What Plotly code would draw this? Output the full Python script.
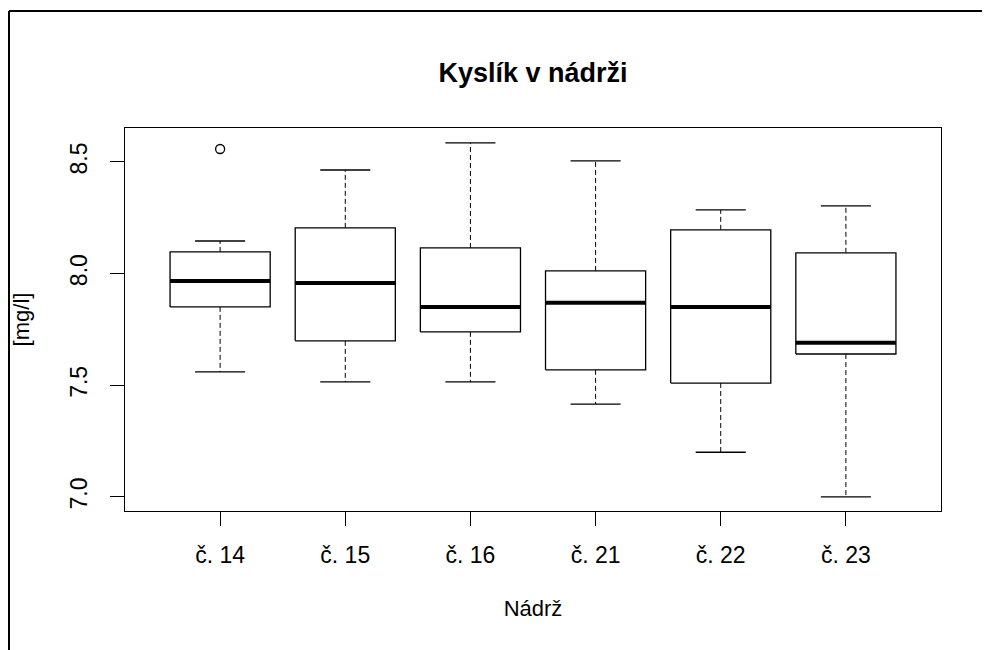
import plotly.graph_objects as go

categories = ["č. 14", "č. 15", "č. 16", "č. 21", "č. 22", "č. 23"]
lower_whisker = [7.56, 7.515, 7.515, 7.416, 7.20, 7.00]
q1 = [7.851, 7.699, 7.739, 7.569, 7.51, 7.64]
median = [7.967, 7.958, 7.851, 7.869, 7.851, 7.69]
q3 = [8.097, 8.205, 8.115, 8.012, 8.196, 8.093]
upper_whisker = [8.146, 8.464, 8.585, 8.505, 8.285, 8.303]
outlier_group = [1]
outlier_value = [8.558]
y_ticks = [7.0, 7.5, 8.0, 8.5]
y_tick_labels = ["7.0", "7.5", "8.0", "8.5"]

BOX_HALF = 0.4
CAP_HALF = 0.2
FONT = "Liberation Sans, Arial, sans-serif"

pos = list(range(1, len(categories) + 1))

box_x, box_y = [], []
med_x, med_y = [], []
wh_x, wh_y = [], []
cap_x, cap_y = [], []
for i, p in enumerate(pos):
    box_x += [p - BOX_HALF, p + BOX_HALF, p + BOX_HALF, p - BOX_HALF, p - BOX_HALF, None]
    box_y += [q1[i], q1[i], q3[i], q3[i], q1[i], None]
    med_x += [p - BOX_HALF, p + BOX_HALF, None]
    med_y += [median[i], median[i], None]
    wh_x += [p, p, None, p, p, None]
    wh_y += [q3[i], upper_whisker[i], None, q1[i], lower_whisker[i], None]
    cap_x += [p - CAP_HALF, p + CAP_HALF, None, p - CAP_HALF, p + CAP_HALF, None]
    cap_y += [upper_whisker[i], upper_whisker[i], None, lower_whisker[i], lower_whisker[i], None]

fig = go.Figure()
fig.add_trace(go.Scatter(x=wh_x, y=wh_y, mode="lines",
                         line=dict(color="black", width=1, dash="5px,3px"),
                         hoverinfo="skip", showlegend=False))
fig.add_trace(go.Scatter(x=cap_x, y=cap_y, mode="lines",
                         line=dict(color="black", width=1.3),
                         hoverinfo="skip", showlegend=False))
fig.add_trace(go.Scatter(x=box_x, y=box_y, mode="lines", fill="toself",
                         fillcolor="white",
                         line=dict(color="black", width=1.3),
                         hoverinfo="skip", showlegend=False))
fig.add_trace(go.Scatter(x=med_x, y=med_y, mode="lines",
                         line=dict(color="black", width=4),
                         hoverinfo="skip", showlegend=False))
fig.add_trace(go.Scatter(x=outlier_group, y=outlier_value, mode="markers",
                         marker=dict(symbol="circle-open", size=9,
                                     color="black", line=dict(width=1.3)),
                         hoverinfo="skip", showlegend=False))

# page body has an 8px margin, so the figure is offset by (8, 8)
OFF = 8
W, H = 990, 650
L, T = 125 - OFF, 128 - OFF
R = W - (941 - OFF)
B = H - (511 - OFF)
pw, ph = W - L - R, H - T - B

fx = (9 - OFF - L) / pw
fy = 1 + (T - (11 - OFF)) / ph

fig.update_layout(
    width=W, height=H,
    margin=dict(l=L, r=R, t=T, b=B, autoexpand=False),
    paper_bgcolor="white", plot_bgcolor="white",
    font=dict(family=FONT, size=22, color="black"),
    title=dict(text="<b>Kyslík v nádrži</b>", font=dict(size=27, family=FONT),
               x=(533 - OFF) / W, xanchor="center",
               y=1 - (73 - OFF) / H, yanchor="middle", yref="container"),
    xaxis=dict(range=[0.24, 6.76], tickvals=pos, ticktext=categories,
               showgrid=False, zeroline=False, showline=True, mirror=True,
               automargin=False,
               linecolor="black", linewidth=1, ticks="outside", ticklen=14,
               tickcolor="black", tickfont=dict(size=23),
               ticklabelstandoff=9,
               title=dict(text="Nádrž", font=dict(size=22), standoff=34)),
    yaxis=dict(range=[6.937, 8.652], tickvals=y_ticks, ticktext=y_tick_labels,
               showgrid=False, zeroline=False, showline=True, mirror=True,
               automargin=False,
               linecolor="black", linewidth=1, ticks="outside", ticklen=14,
               tickcolor="black", tickangle=-90, tickfont=dict(size=23),
               ticklabelstandoff=14,
               title=dict(text="[mg/l]", font=dict(size=22), standoff=30)),
    shapes=[
        dict(type="line", xref="paper", yref="paper",
             x0=fx, x1=fx, y0=-1, y1=fy,
             line=dict(color="black", width=2)),
        dict(type="line", xref="paper", yref="paper",
             x0=fx, x1=2, y0=fy, y1=fy,
             line=dict(color="black", width=2)),
    ],
)

fig.write_html("out.html")
